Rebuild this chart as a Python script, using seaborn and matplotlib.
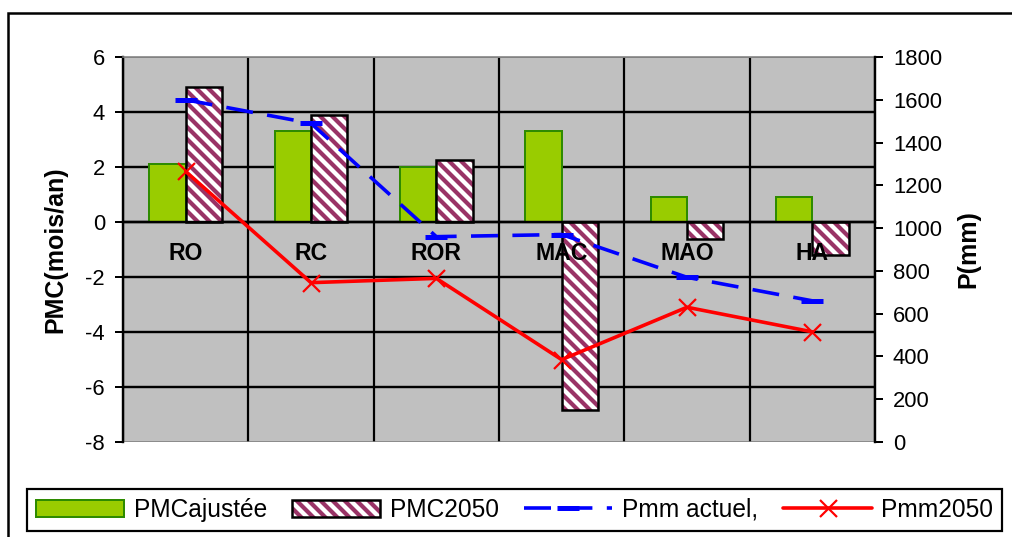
import numpy as np
import pandas as pd
import matplotlib
matplotlib.use("Agg")
import matplotlib.pyplot as plt
from matplotlib.patches import Patch, Rectangle
from matplotlib.lines import Line2D
import seaborn as sns

# Stations and series
sites = ["RO", "RC", "ROR", "MAC", "MAO", "HA"]
pmc_ajustee = [2.1, 3.3, 2.0, 3.3, 0.9, 0.9]          # PMC (mois/an)
pmc_2050 = [4.9, 3.9, 2.25, -6.85, -0.6, -1.2]        # PMC (mois/an)
pmm_actuel = [1600, 1490, 960, 970, 770, 660]         # P (mm)
pmm_2050 = [1265, 745, 765, 385, 630, 515]            # P (mm)

left_ticks = list(range(-8, 7, 2))
right_ticks = list(range(0, 1801, 200))

sns.set_theme(style="white")
plt.rcParams["font.family"] = ["Liberation Sans", "DejaVu Sans"]
plt.rcParams["axes.unicode_minus"] = False
plt.rcParams["hatch.linewidth"] = 4.2
for key in ["text.color", "axes.labelcolor", "xtick.color", "ytick.color"]:
    plt.rcParams[key] = "black"

GREEN = "#99CC00"
GREEN_EDGE = "#2E8B00"
PURPLE = "#993366"
BLUE = "#0000FF"
RED = "#FF0000"
HATCH = "\\\\"
BLUE_DASH = (0, (7.5, 4))

# At 72 dpi one point is one pixel, so sizes below read as pixels.
DPI = 72
W, H = 1012, 537
fig = plt.figure(figsize=(W / DPI, H / DPI), dpi=DPI)
ax = fig.add_axes([123 / W, 1 - 442 / H, (875 - 123) / W, (442 - 57) / H])
ax.set_facecolor("#C0C0C0")

df = pd.DataFrame({
    "site": sites * 2,
    "serie": ["PMCajustée"] * len(sites) + ["PMC2050"] * len(sites),
    "valeur": pmc_ajustee + pmc_2050,
})

sns.barplot(data=df, x="site", y="valeur", hue="serie",
            palette=[GREEN, "#FFFFFF"], width=0.58, saturation=1,
            errorbar=None, legend=False, ax=ax)

green_bars, hatch_bars = ax.containers[0], ax.containers[1]
for b in green_bars:
    b.set_edgecolor(GREEN_EDGE)
    b.set_linewidth(2)
for b in hatch_bars:
    b.set_facecolor("white")
    b.set_edgecolor(PURPLE)
    b.set_linewidth(0)
    b.set_hatch(HATCH)
    ax.add_patch(Rectangle(b.get_xy(), b.get_width(), b.get_height(),
                           fill=False, edgecolor="black", linewidth=2.5,
                           zorder=b.get_zorder() + 0.1))

# Left axis
ymin, ymax = -8, 6
ax.set_ylim(ymin, ymax)
ax.set_yticks(left_ticks)
ax.set_xlim(-0.5, len(sites) - 0.5)
ax.set_axisbelow(True)
ax.grid(axis="y", which="major", color="black", linewidth=2.4)
gl = ax.get_ygridlines()
gl[0].set_color("#808080"); gl[0].set_linewidth(1.6)
gl[-1].set_color("#808080"); gl[-1].set_linewidth(1.6)

ax.tick_params(axis="y", left=True, direction="out", length=8, width=2,
               labelsize=22, pad=10)
ax.set_xlabel("")
ax.set_ylabel("PMC(mois/an)", fontsize=25, fontweight="bold")
ax.yaxis.set_label_coords(-0.074, 0.5)

ax.spines["bottom"].set_position(("data", 0))
ax.spines["bottom"].set_color("black")
ax.spines["bottom"].set_linewidth(2.4)
ax.spines["left"].set_color("black")
ax.spines["left"].set_linewidth(2.4)
ax.spines["top"].set_color("#808080")
ax.spines["top"].set_linewidth(1.6)
ax.spines["right"].set_visible(False)

# Right axis with the two precipitation series
ax2 = ax.twinx()
positions = np.arange(len(sites))
sns.lineplot(x=positions, y=pmm_actuel, ax=ax2, color=BLUE, linewidth=3.6,
             linestyle=BLUE_DASH, marker="_", markersize=22,
             markeredgewidth=5, markeredgecolor=BLUE, zorder=5)
sns.lineplot(x=positions, y=pmm_2050, ax=ax2, color=RED, linewidth=3.6,
             marker="x", markersize=17, markeredgewidth=2.2,
             markeredgecolor=RED, zorder=6)
ax2.set_ylim(0, 1800)
ax2.set_yticks(right_ticks)
ax2.grid(False)
ax2.tick_params(axis="y", right=True, direction="out", length=8, width=2,
                labelsize=22, pad=10)
ax2.set_ylabel("P(mm)", fontsize=25, fontweight="bold")
ax2.yaxis.set_label_coords(1.108, 0.5)
for s in ["top", "left"]:
    ax2.spines[s].set_visible(False)
ax2.spines["right"].set_color("black")
ax2.spines["right"].set_linewidth(2.4)

# Vertical separators between categories
ax.set_xlim(-0.5, len(sites) - 0.5)
ax.set_xticks(np.arange(-0.5, len(sites), 1), minor=True)
ax.grid(axis="x", which="minor", color="black", linewidth=2.2)
ax.grid(axis="x", which="major", visible=False)
ax.tick_params(axis="x", which="both", bottom=False, labelbottom=False)

# Category labels sit under the zero line, drawn above the bars
ax2.xaxis.set_visible(True)
ax2.set_xticks(positions, labels=sites)
ax2.spines["bottom"].set_position(("axes", (0 - ymin) / (ymax - ymin)))
ax2.spines["bottom"].set_visible(False)
ax2.tick_params(axis="x", which="major", bottom=True, labelbottom=True,
                length=0, pad=20, labelsize=23)
ax2.tick_params(axis="x", which="minor", bottom=False, labelbottom=False)
ax2.set_xlabel("")

# Legend across the bottom
handles = [
    Patch(facecolor=GREEN, edgecolor=GREEN_EDGE, linewidth=2),
    (Patch(facecolor="white", edgecolor=PURPLE, hatch=HATCH, linewidth=0),
     Patch(fill=False, edgecolor="black", linewidth=2.5)),
    Line2D([], [], color=BLUE, linewidth=3.6, linestyle=BLUE_DASH,
           marker="_", markersize=22, markeredgewidth=5),
    Line2D([], [], color=RED, linewidth=3.6, marker="x", markersize=17,
           markeredgewidth=2.2),
]
labels = ["PMCajustée", "PMC2050", "Pmm actuel,", "Pmm2050"]
leg = fig.legend(handles, labels, loc="center", mode="expand",
                 bbox_to_anchor=(27 / W, 1 - 533 / H, 975 / W, 46 / H),
                 borderaxespad=0, ncol=4, fontsize=24.5, handlelength=3.6,
                 handleheight=0.7, handletextpad=0.4, columnspacing=0.6,
                 borderpad=0.35, fancybox=False, frameon=True, framealpha=1)
leg.get_frame().set_edgecolor("black")
leg.get_frame().set_linewidth(2.2)

# Outer chart frame
fig.add_artist(Rectangle((8 / W, -0.1), 1.2, 1 - 13 / H + 0.1,
                         transform=fig.transFigure, fill=False,
                         edgecolor="black", linewidth=2.5))

fig.canvas.draw()
for tick in ax2.xaxis.get_major_ticks():
    tick.label1.set_fontweight("bold")
    tick.label1.set_fontsize(23)

fig.savefig("out.png", dpi=DPI)
